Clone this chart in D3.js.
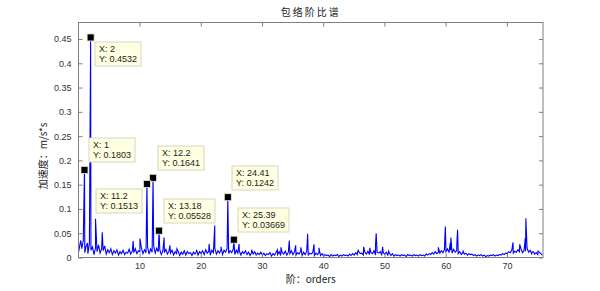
<!DOCTYPE html>
<html>
<head>
<meta charset="utf-8">
<script src="https://cdn.jsdelivr.net/npm/d3@7"></script>
<style>
  body { margin: 0; background: #fff; }
  text { font-family: "Liberation Sans", Arial, sans-serif; }
</style>
</head>
<body>
<div id="chart"></div>
<script>
// envelope order spectrum
// noise floor: one value every 0.25 order starting at order 0.05
var floorStart = 0.05, floorStep = 0.25;
var floorValues = [
  0.012, 0.030, 0.018, 0.035, 0.010, 0.025, 0.008, 0.028, 0.015, 0.022, 0.006, 0.020, 0.012, 0.026, 0.009, 0.018, 0.014, 0.024, 0.007, 0.016,
  0.010, 0.018, 0.006, 0.014, 0.009, 0.016, 0.005, 0.012, 0.008, 0.015, 0.006, 0.011, 0.009, 0.017, 0.007, 0.013, 0.010, 0.018, 0.008, 0.014,
  0.012, 0.020, 0.008, 0.016, 0.010, 0.022, 0.007, 0.018, 0.011, 0.024, 0.009, 0.019, 0.012, 0.016, 0.006, 0.014, 0.010, 0.017, 0.007, 0.013,
  0.009, 0.015, 0.005, 0.012, 0.008, 0.013, 0.004, 0.011, 0.007, 0.014, 0.005, 0.012, 0.008, 0.010, 0.004, 0.011, 0.007, 0.013, 0.005, 0.012,
  0.008, 0.014, 0.006, 0.016, 0.009, 0.013, 0.005, 0.015, 0.010, 0.018, 0.007, 0.014, 0.009, 0.016, 0.006, 0.015, 0.011, 0.019, 0.008, 0.014,
  0.010, 0.017, 0.006, 0.015, 0.009, 0.013, 0.005, 0.012, 0.008, 0.014, 0.006, 0.011, 0.004, 0.010, 0.007, 0.012, 0.005, 0.009, 0.006, 0.011,
  0.005, 0.009, 0.004, 0.008, 0.006, 0.010, 0.003, 0.008, 0.005, 0.011, 0.006, 0.012, 0.004, 0.010, 0.007, 0.013, 0.005, 0.011, 0.008, 0.014,
  0.006, 0.012, 0.005, 0.010, 0.007, 0.013, 0.004, 0.011, 0.006, 0.012, 0.005, 0.009, 0.007, 0.011, 0.004, 0.009, 0.006, 0.010, 0.004, 0.008,
  0.003, 0.006, 0.004, 0.005, 0.002, 0.006, 0.003, 0.005, 0.004, 0.006, 0.002, 0.005, 0.003, 0.006, 0.004, 0.005, 0.003, 0.007, 0.004, 0.008,
  0.005, 0.010, 0.006, 0.012, 0.008, 0.009, 0.005, 0.011, 0.007, 0.013, 0.006, 0.010, 0.008, 0.014, 0.005, 0.011, 0.009, 0.012, 0.006, 0.010,
  0.007, 0.011, 0.005, 0.009, 0.004, 0.008, 0.003, 0.006, 0.004, 0.005, 0.003, 0.006, 0.004, 0.005, 0.002, 0.006, 0.004, 0.005, 0.003, 0.006,
  0.004, 0.005, 0.003, 0.006, 0.004, 0.005, 0.003, 0.007, 0.005, 0.008, 0.006, 0.010, 0.007, 0.012, 0.008, 0.011, 0.009, 0.014, 0.010, 0.016,
  0.012, 0.018, 0.010, 0.015, 0.009, 0.017, 0.011, 0.014, 0.008, 0.012, 0.006, 0.010, 0.007, 0.009, 0.005, 0.008, 0.006, 0.007, 0.004, 0.006,
  0.003, 0.005, 0.004, 0.006, 0.003, 0.005, 0.002, 0.004, 0.003, 0.005, 0.004, 0.006, 0.003, 0.005, 0.004, 0.006, 0.005, 0.008, 0.006, 0.009,
  0.008, 0.012, 0.010, 0.015, 0.009, 0.013, 0.011, 0.016, 0.012, 0.018, 0.010, 0.014, 0.013, 0.019, 0.011, 0.015, 0.008, 0.012, 0.007, 0.010,
  0.006, 0.011, 0.008, 0.005
];

// spikes sticking out of the floor
var peakOrders = [0.4, 1.0, 1.5, 2.0, 2.8, 3.9, 8.95, 10.05, 11.2, 12.2, 13.18, 14.0, 14.95, 16.1, 19.3,
  21.35, 22.28, 23.3, 24.41, 25.39, 26.25, 28.3, 32.5, 33.1, 34.45, 35.5, 36.35, 37.45, 38.5, 39.3,
  45.7, 46.6, 47.6, 48.55, 48.65, 49.7, 50.7, 58.8, 59.85, 59.95, 60.75, 60.85, 61.85, 61.95, 62.85,
  71.0, 72.1, 73.0, 73.1, 74.1, 75.1];
var peakValues = [0.035, 0.1803, 0.030, 0.4532, 0.080, 0.052, 0.034, 0.039, 0.1513, 0.1641, 0.05528, 0.041, 0.025, 0.018, 0.016,
  0.028, 0.066, 0.022, 0.1242, 0.03669, 0.028, 0.016, 0.016, 0.021, 0.035, 0.025, 0.021, 0.049, 0.027, 0.020,
  0.016, 0.022, 0.020, 0.028, 0.050, 0.022, 0.013, 0.021, 0.035, 0.064, 0.030, 0.041, 0.035, 0.057, 0.013,
  0.031, 0.027, 0.040, 0.081, 0.011, 0.013];

// data tips
var tipOrders = [2, 1, 12.2, 11.2, 13.18, 24.41, 25.39];
var tipValues = [0.4532, 0.1803, 0.1641, 0.1513, 0.05528, 0.1242, 0.03669];
var tipSides = ["br", "tr", "tr", "bl", "tr", "tr", "tr"];

var xTicks = [10, 20, 30, 40, 50, 60, 70];
var yTicks = [0, 0.05, 0.1, 0.15, 0.2, 0.25, 0.3, 0.35, 0.4, 0.45];

var W = 600, H = 291;
var margin = { top: 22.5, right: 57, bottom: 33.5, left: 78.5 };
var width = W - margin.left - margin.right,
  height = H - margin.top - margin.bottom;

var svg = d3.select("#chart").append("svg")
  .attr("width", W).attr("height", H);

var g = svg.append("g")
  .attr("transform", "translate(" + margin.left + "," + margin.top + ")");

var x = d3.scaleLinear().domain([0.02, 75.9]).range([0, width]);
var y = d3.scaleLinear().domain([0, 0.484]).range([height, 0]);

// merge floor + spikes into one series sorted by order
var series = floorValues.map(function (v, i) { return [floorStart + i * floorStep, v]; });
peakOrders.forEach(function (o, i) { series.push([o, peakValues[i]]); });
series.sort(function (a, b) { return a[0] - b[0]; });

svg.append("defs").append("clipPath").attr("id", "clip")
  .append("rect").attr("width", width).attr("height", height);

var axisColor = "#7f7f7f", labelColor = "#333";

// line
g.append("path")
  .datum(series)
  .attr("clip-path", "url(#clip)")
  .attr("fill", "none")
  .attr("stroke", "#0000ff")
  .attr("stroke-width", 1.1)
  .attr("d", d3.line().x(function (d) { return x(d[0]); }).y(function (d) { return y(d[1]); }));

// axes, MATLAB style: box with inward ticks on all four sides
function styleAxis(sel) {
  sel.select(".domain").remove();
  sel.selectAll(".tick line").attr("stroke", axisColor);
  sel.selectAll(".tick text").attr("fill", labelColor)
    .style("font-size", "9px").style("font-family", "'Liberation Sans', Arial, sans-serif");
}
g.append("g").attr("transform", "translate(0," + height + ")")
  .call(d3.axisBottom(x).tickValues(xTicks).tickSizeInner(-4).tickPadding(5).tickFormat(String))
  .call(styleAxis);
g.append("g")
  .call(d3.axisTop(x).tickValues(xTicks).tickSizeInner(-4).tickFormat(""))
  .call(styleAxis);
g.append("g")
  .call(d3.axisLeft(y).tickValues(yTicks).tickSizeInner(-4).tickPadding(7).tickFormat(String))
  .call(styleAxis);
g.append("g").attr("transform", "translate(" + width + ",0)")
  .call(d3.axisRight(y).tickValues(yTicks).tickSizeInner(-4).tickFormat(""))
  .call(styleAxis);

g.append("rect")
  .attr("width", width).attr("height", height)
  .attr("fill", "none").attr("stroke", axisColor).attr("stroke-width", 1);

// data tips
var tips = g.append("g");
tipOrders.forEach(function (o, i) {
  var mx = x(o), my = y(tipValues[i]);
  var tg = tips.append("g");
  var t1 = tg.append("text").text("X: " + o);
  var t2 = tg.append("text").text("Y: " + tipValues[i]);
  tg.selectAll("text").attr("fill", "#222").style("font-size", "9px");
  var tw = Math.max(t1.node().getComputedTextLength(), t2.node().getComputedTextLength());
  var bw = Math.round(tw + 8), bh = 24;
  var bx, by;
  if (tipSides[i] === "br") { bx = mx + 4; by = my + 4; }
  else if (tipSides[i] === "bl") { bx = mx - 5 - bw; by = my + 4; }
  else { bx = mx + 4; by = my - 8 - bh; }
  bx = Math.round(bx) + 0.5; by = Math.round(by) + 0.5;
  tg.insert("rect", "text")
    .attr("x", bx).attr("y", by).attr("width", bw).attr("height", bh)
    .attr("fill", "#ffffe1").attr("stroke", "#d6d6c2");
  t1.attr("x", bx + 4).attr("y", by + 10);
  t2.attr("x", bx + 4).attr("y", by + 20);
  tips.append("rect")
    .attr("x", mx - 3.5).attr("y", my - 3.5).attr("width", 7).attr("height", 7)
    .attr("fill", "#000").attr("stroke", "#e8e8d0").attr("stroke-width", 0.8);
});

// title and labels
var cjk = "'Noto Sans CJK SC', 'Liberation Sans', sans-serif";
svg.append("text")
  .attr("x", margin.left + width / 2).attr("y", 16)
  .attr("text-anchor", "middle").attr("fill", "#222")
  .style("font-size", "10px").style("font-family", cjk).style("letter-spacing", "2px")
  .text("包络阶比谱");
svg.append("text")
  .attr("x", margin.left + width / 2).attr("y", 283)
  .attr("text-anchor", "middle").attr("fill", "#222")
  .style("font-size", "10px").style("font-family", cjk)
  .text("阶：orders");
svg.append("text")
  .attr("transform", "translate(47,156) rotate(-90)")
  .attr("text-anchor", "middle").attr("fill", "#222")
  .style("font-size", "10px").style("font-family", cjk)
  .text("加速度：m/s*s");
</script>
</body>
</html>
